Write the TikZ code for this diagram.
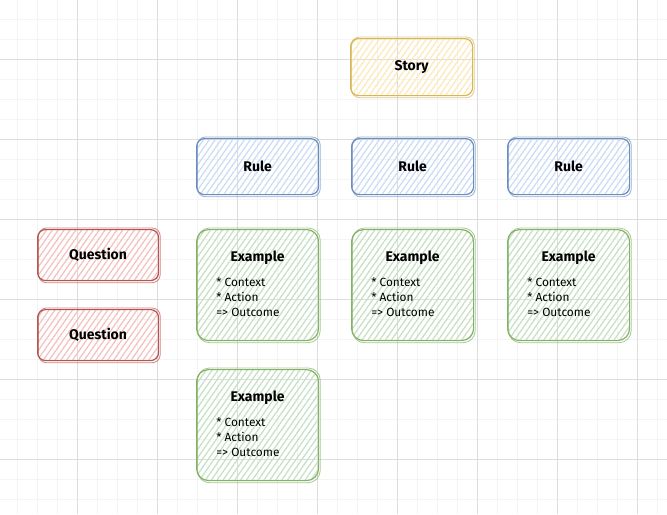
\documentclass[tikz,border=0pt]{standalone}
\usepackage{fontspec}
\setmainfont{Fira Sans}
\usetikzlibrary{patterns.meta,calc}
\definecolor{ystroke}{HTML}{D6B656}
\definecolor{yfill}{HTML}{FCE9B8}
\definecolor{bstroke}{HTML}{6C8EBF}
\definecolor{bfill}{HTML}{C9DBF7}
\definecolor{gstroke}{HTML}{82B366}
\definecolor{gfill}{HTML}{C5E0C2}
\definecolor{rstroke}{HTML}{B85450}
\definecolor{rfill}{HTML}{F5C0BD}
\definecolor{gridminor}{HTML}{F4F4F4}
\definecolor{gridmajor}{HTML}{DDDDDD}
\tikzset{
  card/.style 2 args={draw=#1, line width=0.9pt, rounded corners=6pt,
    pattern={Lines[angle=55,distance=3.6pt,line width=0.9pt]}, pattern color=#2,
    inner sep=0pt, anchor=north west},
  sketch/.style={draw=#1, line width=0.6pt, rounded corners=6pt, opacity=0.7},
  ttl/.style={font=\bfseries\fontsize{10.5}{12}\selectfont, text=black},
  body/.style={font=\fontsize{8.9}{11.25}\selectfont, align=left, anchor=north west, inner sep=0pt, text=black}
}
\begin{document}
\begin{tikzpicture}[x=0.75pt,y=-0.75pt]
\useasboundingbox (0,0) rectangle (667,514);
\fill[white] (0,0) rectangle (667,514);
% grid
\foreach \x in {17,37,...,667} \draw[gridminor,line width=0.6pt] (\x,0) -- (\x,514);
\foreach \y in {19,39,...,514} \draw[gridminor,line width=0.6pt] (0,\y) -- (667,\y);
\foreach \x in {77,157,...,667} \draw[gridmajor,line width=0.6pt] (\x,0) -- (\x,514);
\foreach \y in {59,139,...,514} \draw[gridmajor,line width=0.6pt] (0,\y) -- (667,\y);
% Story
\node[card={ystroke}{yfill}, minimum width=91.5pt, minimum height=42.75pt] (story) at (350,38) {};
\draw[sketch=ystroke] ($(story.north west)+(1.5,-1)$) rectangle ($(story.south east)+(1,1.5)$);
\node[ttl] at (story.center) {Story};
% Rules
\foreach \n/\x in {r1/196,r2/351,r3/507}{
  \node[card={bstroke}{bfill}, minimum width=91.5pt, minimum height=42pt] (\n) at (\x,138) {};
  \draw[sketch=bstroke] ($(\n.north west)+(1.5,-1)$) rectangle ($(\n.south east)+(1,1.5)$);
  \node[ttl] at (\n.center) {Rule};
}
% Examples
\foreach \n/\x/\y in {e1/196/229,e2/351/229,e3/507/229,e4/196/369}{
  \node[card={gstroke}{gfill}, minimum width=91.5pt, minimum height=83.25pt, rounded corners=9pt] (\n) at (\x,\y) {};
  \draw[sketch=gstroke, rounded corners=9pt] ($(\n.north west)+(1.5,-1)$) rectangle ($(\n.south east)+(1,1.5)$);
  \node[ttl] at ($(\n.north)+(0,28.5)$) {Example};
  \node[body] at ($(\n.north west)+(20,48)$) {* Context\\* Action\\=> Outcome};
}
% Questions
\foreach \n/\y in {q1/229,q2/309}{
  \node[card={rstroke}{rfill}, minimum width=90.75pt, minimum height=38.25pt] (\n) at (37,\y) {};
  \draw[sketch=rstroke] ($(\n.north west)+(1.5,-1)$) rectangle ($(\n.south east)+(1,1.5)$);
  \node[ttl] at (\n.center) {Question};
}
\end{tikzpicture}
\end{document}
